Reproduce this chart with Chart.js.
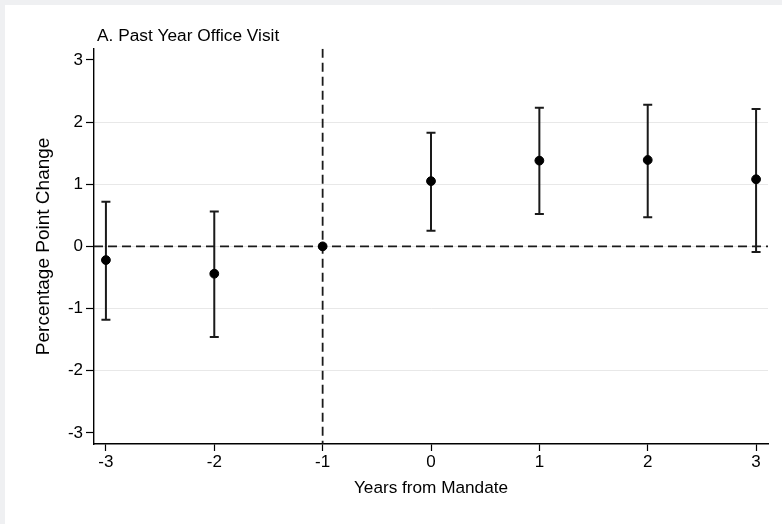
<!DOCTYPE html>
<html>
<head>
<meta charset="utf-8">
<script src="https://cdn.jsdelivr.net/npm/chart.js@4.4.1/dist/chart.umd.min.js"></script>
<style>
  html, body { margin: 0; padding: 0; background: #eff0f2; }
  #wrap { width: 782px; height: 524px; position: relative; }
</style>
</head>
<body>
<div id="wrap"><canvas id="chart" width="782" height="524"></canvas></div>
<script>
// Event-study estimates: years relative to the mandate (year -1 is the reference)
const years = [-3, -2, -1, 0, 1, 2, 3];
const estimates = [-0.22, -0.44, 0, 1.05, 1.38, 1.39, 1.08];
const ciLower = [-1.18, -1.46, null, 0.25, 0.52, 0.47, -0.09];
const ciUpper = [0.72, 0.56, null, 1.83, 2.23, 2.28, 2.21];

const xTicks = [-3, -2, -1, 0, 1, 2, 3];
const yTicks = [-3, -2, -1, 0, 1, 2, 3];
const xRange = [-3.11, 3.11];
const yRange = [-3.18, 3.18];
const referenceYear = -1;

const FONT = '"Liberation Sans", Arial, Helvetica, sans-serif';
const INK = '#000000';

// Grey page with a white panel behind the graph
const panelBackground = {
  id: 'panelBackground',
  beforeDraw(chart) {
    const c = chart.ctx;
    c.save();
    c.fillStyle = '#eff0f2';
    c.fillRect(0, 0, chart.width, chart.height);
    c.fillStyle = '#ffffff';
    c.fillRect(5, 5, chart.width - 5, chart.height - 5);
    c.restore();
  }
};

// Nudge the panel title slightly right of the y axis line
const titleInset = {
  id: 'titleInset',
  afterLayout(chart) {
    if (chart.titleBlock) {
      chart.titleBlock.left += 3;
      chart.titleBlock.right += 3;
    }
  }
};

// Capped 95% confidence intervals, drawn just before the point estimates
const errorBars = {
  id: 'errorBars',
  beforeDatasetDraw(chart, args) {
    if (args.meta.label !== 'Estimate') return;
    const xs = chart.scales.x, ys = chart.scales.y;
    const c = chart.ctx;
    c.save();
    c.strokeStyle = '#1a1a1a';
    c.lineWidth = 2;
    const half = 4.5;
    years.forEach((yr, i) => {
      if (ciLower[i] === null || ciUpper[i] === null) return;
      const px = xs.getPixelForValue(yr);
      const pLo = ys.getPixelForValue(ciLower[i]);
      const pHi = ys.getPixelForValue(ciUpper[i]);
      c.beginPath();
      c.moveTo(px, pLo); c.lineTo(px, pHi);
      c.moveTo(px - half, pHi); c.lineTo(px + half, pHi);
      c.moveTo(px - half, pLo); c.lineTo(px + half, pLo);
      c.stroke();
    });
    c.restore();
  }
};

const dash = [9, 5];

new Chart(document.getElementById('chart'), {
  type: 'scatter',
  data: {
    datasets: [
      {
        label: 'Estimate',
        data: years.map((x, i) => ({ x, y: estimates[i] })),
        backgroundColor: '#000000',
        borderColor: '#000000',
        pointRadius: 4.4,
        pointHoverRadius: 4.4,
        order: 1
      },
      {
        label: 'Zero line',
        type: 'line',
        data: [{ x: xRange[0], y: 0 }, { x: xRange[1], y: 0 }],
        borderColor: '#1a1a1a',
        borderWidth: 1.8,
        borderDash: dash,
        pointRadius: 0,
        order: 3
      },
      {
        label: 'Mandate line',
        type: 'line',
        data: [{ x: referenceYear, y: yRange[1] }, { x: referenceYear, y: yRange[0] }],
        borderColor: '#1a1a1a',
        borderWidth: 1.8,
        borderDash: dash,
        pointRadius: 0,
        order: 3
      }
    ]
  },
  options: {
    responsive: false,
    animation: false,
    events: [],
    layout: { padding: { top: 0, left: 0, right: 14, bottom: 0 } },
    plugins: {
      legend: { display: false },
      tooltip: { enabled: false },
      title: {
        display: true,
        text: 'A. Past Year Office Visit',
        align: 'start',
        fullSize: false,
        color: INK,
        font: { family: FONT, size: 17.3, weight: 'normal' },
        padding: { top: 25.5, bottom: 2.5 }
      }
    },
    scales: {
      x: {
        type: 'linear',
        min: xRange[0],
        max: xRange[1],
        afterBuildTicks: s => { s.ticks = xTicks.map(v => ({ value: v })); },
        afterFit: s => { s.height = 80; },
        border: { display: true, color: INK, width: 1.4 },
        grid: { drawOnChartArea: false, drawTicks: true, tickLength: 7, tickColor: INK, tickWidth: 1.2 },
        ticks: {
          color: INK,
          font: { family: FONT, size: 17 },
          padding: 1,
          maxRotation: 0,
          callback: v => String(v)
        },
        title: {
          display: true,
          text: 'Years from Mandate',
          color: INK,
          font: { family: FONT, size: 17.2 },
          padding: { top: 0, bottom: 25.2 }
        }
      },
      y: {
        type: 'linear',
        min: yRange[0],
        max: yRange[1],
        afterBuildTicks: s => { s.ticks = yTicks.map(v => ({ value: v })); },
        afterFit: s => { s.width = 94; },
        border: { display: true, color: INK, width: 1.4 },
        grid: {
          drawOnChartArea: true,
          drawTicks: true,
          tickLength: 8,
          tickColor: INK,
          tickWidth: 1.2,
          lineWidth: 1,
          color: ctx => (ctx.tick && Math.abs(ctx.tick.value) === 3) ? 'rgba(0,0,0,0)' : '#e8e8e8'
        },
        ticks: {
          color: INK,
          font: { family: FONT, size: 17 },
          padding: 3,
          callback: v => String(v)
        },
        title: {
          display: true,
          text: 'Percentage Point Change',
          color: INK,
          font: { family: FONT, size: 19 },
          padding: { top: 32.5, bottom: 0 }
        }
      }
    }
  },
  plugins: [panelBackground, titleInset, errorBars]
});
</script>
</body>
</html>
